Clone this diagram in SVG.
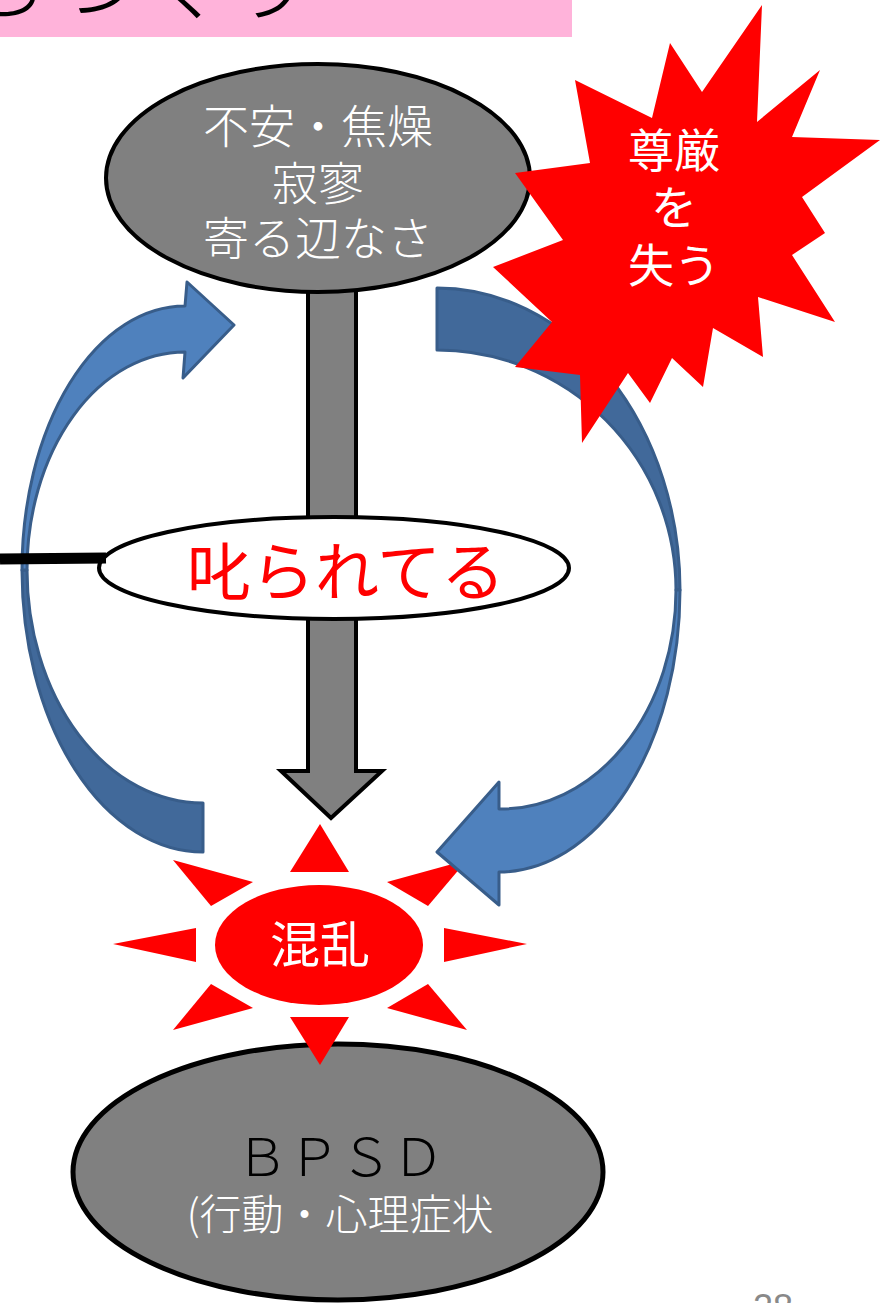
<svg xmlns="http://www.w3.org/2000/svg" width="881" height="1303" viewBox="0 0 881 1303">
<style>
.jp{font-family:"Noto Sans CJK JP","Noto Sans CJK SC",sans-serif}
.node{stroke:#000;stroke-width:4}
.gray{fill:#808080}
.blueL{fill:#4f81bd;stroke:#385d8a;stroke-width:3;stroke-linejoin:round}
.blueD{fill:#41699a;stroke:#385d8a;stroke-width:3;stroke-linejoin:round}
.red{fill:#ff0000}
.wt{fill:#ffffff}
</style>
<rect width="881" height="1303" fill="#ffffff"/>
<g id="title">
<rect x="0" y="0" width="572" height="37" fill="#ffb3da"/>
<text class="jp" x="-38" y="13" font-size="88" font-weight="300" fill="#000">ちづくり</text>
</g>
<g id="connectors">
<polygon id="gray-arrow" class="node gray" points="308,280 356,280 356,771 382,771 331,818 281,771 308,771"/>
</g>
<g id="node-anxiety">
<ellipse class="node gray" cx="318" cy="178" rx="212" ry="114"/>
<text class="jp wt" font-size="46" font-weight="300" text-anchor="middle"><tspan x="318" y="143">不安・焦燥</tspan><tspan x="318" y="200">寂寥</tspan><tspan x="318" y="255">寄る辺なさ</tspan></text>
</g>
<g id="node-scolded">
<ellipse class="node" cx="334" cy="568" rx="235" ry="51" fill="#ffffff"/>
<text class="jp" x="346" y="595" font-size="64" text-anchor="middle" fill="#ff0000">叱られてる</text>
</g>
<g id="node-bpsd">
<ellipse cx="338" cy="1172" rx="265" ry="128" class="gray" stroke="#000" stroke-width="5"/>
<text class="jp" x="340" y="1176" font-size="52" font-weight="300" text-anchor="middle" fill="#000">ＢＰＳＤ</text>
<text class="jp wt" x="340" y="1230" font-size="42" font-weight="300" text-anchor="middle">(行動・心理症状</text>
</g>
<g id="node-confusion">
<polygon class="red" points="290,872 349,872 320,824"/>
<polygon class="red" points="290,1017 349,1017 320,1065"/>
<polygon class="red" points="196,928 196,962 113,944"/>
<polygon class="red" points="444,928 444,962 527,944"/>
<polygon class="red" points="173,860 253,882 211,906"/>
<polygon class="red" points="387,882 467,860 428,906"/>
<polygon class="red" points="211,984 253,1008 173,1030"/>
<polygon class="red" points="428,984 387,1008 467,1030"/>
<ellipse class="red" cx="319" cy="945" rx="104" ry="60"/>
<text class="jp wt" x="320" y="963" font-size="50" text-anchor="middle">混乱</text>
</g>
<g id="blue-arrows">
<path class="blueD" d="M 22,570 A 181 282 0 0 0 203,852 L 203,803 A 176 233 0 0 1 27,570 Z"/>
<path class="blueL" d="M 22,570 A 163 264 0 0 1 185,306 L 187,282 L 234,325 L 183,378 L 185,352 A 158 218 0 0 0 27,570 Z"/>
<path class="blueD" d="M 437,288 A 243 302 0 0 1 680,590 L 676,590 A 239 240 0 0 0 437,350 Z"/>
<path class="blueL" d="M 680,590 A 181 282 0 0 1 499,872 L 499,905 L 437,852 L 499,782 L 499,809 A 175 219 0 0 0 676,590 Z"/>
<line x1="0" y1="559" x2="106" y2="558" stroke="#000" stroke-width="11"/>
</g>
<g id="node-dignity">
<polygon class="red" points="762,5 757,122 820,70 792,137 880,140 802,197 825,233 792,255 835,322 758,297 763,357 713,328 703,387 672,358 650,403 628,373 582,443 580,375 515,367 552,322 493,267 563,240 515,173 590,163 575,80 652,118 670,43 702,92"/>
<text class="jp wt" font-size="46" text-anchor="middle"><tspan x="674" y="167">尊厳</tspan><tspan x="674" y="224">を</tspan><tspan x="674" y="282">失う</tspan></text>
</g>
<text x="773" y="1320" font-family="Liberation Sans, sans-serif" font-size="36" fill="#898989" text-anchor="middle">28</text>
</svg>
